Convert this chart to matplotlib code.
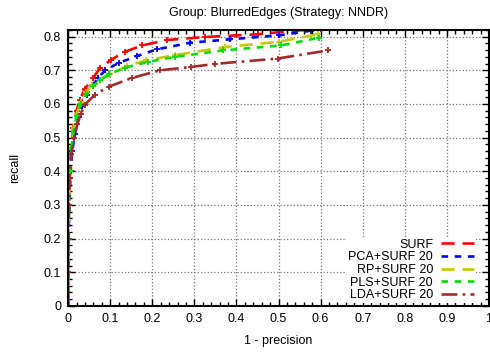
import matplotlib
matplotlib.use('Agg')
import matplotlib.pyplot as plt
from matplotlib.lines import Line2D
from matplotlib.ticker import MultipleLocator, FuncFormatter

plt.rcParams['font.family'] = ['Liberation Sans', 'DejaVu Sans']
plt.rcParams['font.size'] = 9

# data
surf_x = [0, 0, 0.001, 0.002, 0.004, 0.007, 0.012, 0.02, 0.028, 0.04, 0.06, 0.076, 0.103, 0.135, 0.176, 0.235, 0.325, 0.451, 0.54, 0.6]
surf_y = [0, 0.1, 0.2, 0.3, 0.4, 0.47, 0.53, 0.58, 0.613, 0.645, 0.678, 0.707, 0.732, 0.755, 0.774, 0.79, 0.799, 0.807, 0.818, 0.822]

pca_x = [0, 0, 0.001, 0.003, 0.006, 0.01, 0.016, 0.025, 0.034, 0.044, 0.058, 0.072, 0.088, 0.12, 0.163, 0.21, 0.29, 0.384, 0.502, 0.577]
pca_y = [0, 0.1, 0.2, 0.3, 0.4, 0.46, 0.51, 0.56, 0.595, 0.628, 0.655, 0.678, 0.70, 0.722, 0.742, 0.762, 0.782, 0.792, 0.804, 0.818]

rp_x = [0, 0, 0.001, 0.002, 0.004, 0.008, 0.013, 0.02, 0.03, 0.042, 0.056, 0.075, 0.1, 0.139, 0.186, 0.254, 0.372, 0.502, 0.593]
rp_y = [0, 0.1, 0.2, 0.3, 0.4, 0.47, 0.53, 0.57, 0.605, 0.635, 0.655, 0.672, 0.688, 0.712, 0.73, 0.745, 0.769, 0.785, 0.807]

pls_x = [0, 0, 0.001, 0.002, 0.004, 0.008, 0.013, 0.02, 0.03, 0.042, 0.058, 0.076, 0.096, 0.135, 0.19, 0.254, 0.368, 0.506, 0.597]
pls_y = [0, 0.1, 0.2, 0.3, 0.4, 0.47, 0.52, 0.565, 0.6, 0.63, 0.652, 0.67, 0.688, 0.708, 0.725, 0.74, 0.759, 0.774, 0.797]

lda_x = [0, 0, 0.001, 0.002, 0.004, 0.008, 0.014, 0.022, 0.03, 0.04, 0.064, 0.096, 0.151, 0.218, 0.293, 0.348, 0.498, 0.617]
lda_y = [0, 0.1, 0.2, 0.3, 0.38, 0.45, 0.5, 0.54, 0.57, 0.598, 0.628, 0.651, 0.677, 0.70, 0.71, 0.719, 0.735, 0.759]

labels = ['SURF', 'PCA+SURF 20', 'RP+SURF 20', 'PLS+SURF 20', 'LDA+SURF 20']
colors = ['#ff0000', '#0000ff', '#c8c800', '#00e000', '#a52a2a']
dashes = [(5, 3), (2.5, 2.5), (5, 3), (2.5, 2.5), (6, 2, 1, 2)]

series = [(surf_x, surf_y), (pca_x, pca_y), (rp_x, rp_y), (pls_x, pls_y), (lda_x, lda_y)]


def fmt(v, pos):
    if abs(v) < 1e-9:
        return '0'
    if abs(v - 1) < 1e-9:
        return '1'
    return f'{v:.1f}'


fig = plt.figure(figsize=(4.9, 3.52), dpi=100)
ax = fig.add_axes([0.139, 0.131, 0.859, 0.784])

handles = []
for (xs, ys), lab, c, d in zip(series, labels, colors, dashes):
    ax.plot(xs, ys, color=c, lw=1.9, dashes=d, marker='+', ms=4, mew=1.3)
    handles.append(Line2D([], [], color=c, lw=1.9, dashes=d))

ax.set_xlim(0, 1)
ax.set_ylim(0, 0.82)
ax.xaxis.set_major_locator(MultipleLocator(0.1))
ax.xaxis.set_minor_locator(MultipleLocator(0.02))
ax.yaxis.set_major_locator(MultipleLocator(0.1))
ax.yaxis.set_minor_locator(MultipleLocator(0.02))
ax.xaxis.set_major_formatter(FuncFormatter(fmt))
ax.yaxis.set_major_formatter(FuncFormatter(fmt))
ax.tick_params(which='both', direction='in', top=True, right=True)
ax.tick_params(which='major', length=5, width=1, pad=5)
ax.tick_params(which='minor', length=3, width=1)
ax.grid(True, which='major', color='#777777', ls=':', lw=0.9)
for s in ax.spines.values():
    s.set_linewidth(1.5)

ax.set_title('Group: BlurredEdges (Strategy: NNDR)', fontsize=9, pad=10)
ax.set_xlabel('1 - precision', labelpad=7)
ax.set_ylabel('recall', labelpad=16)

leg = ax.legend(handles, labels, loc='lower right', bbox_to_anchor=(0.968, 0.012),
                markerfirst=False, frameon=True, edgecolor='none', fancybox=False,
                framealpha=1, handlelength=2.7, handletextpad=0.6, labelspacing=0.05,
                borderpad=0.1, borderaxespad=0, fontsize=9)

fig.savefig('out.png', dpi=100)
